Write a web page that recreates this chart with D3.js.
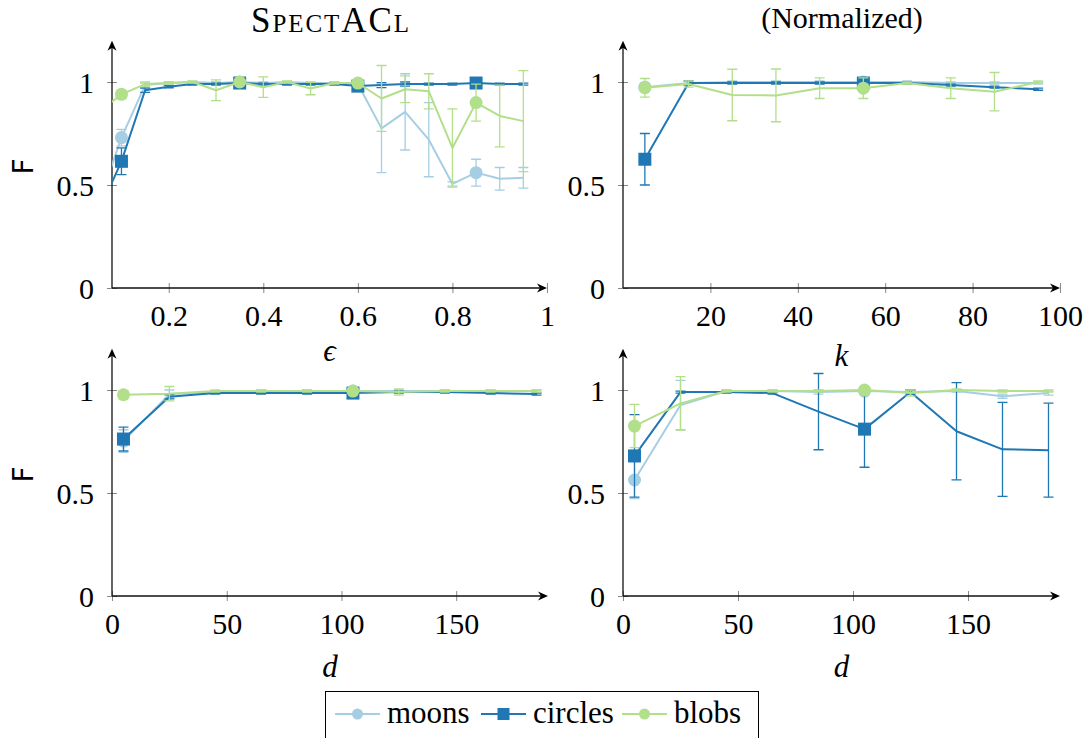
<!DOCTYPE html>
<html><head><meta charset="utf-8">
<script src="https://cdn.jsdelivr.net/npm/d3@7"></script>
<style>
body{margin:0;background:#fff;}
svg{display:block;}
</style></head><body>
<svg id="c" width="1086" height="738" font-family="Liberation Serif"></svg>
<script>
// ---------- data ----------
const seriesNames = ["moons", "circles", "blobs"];
const seriesColors = ["#a6cee3", "#1f78b4", "#b2df8a"];
const seriesSymbols = ["circle", "square", "circle"];

// top-left: epsilon
const epsX = [0.05,0.1,0.15,0.2,0.25,0.3,0.35,0.4,0.45,0.5,0.55,0.6,0.65,0.7,0.75,0.8,0.85,0.9,0.95];
const epsMoons      = [0.40,0.73,0.985,0.995,1.0,0.995,1.0,0.995,1.0,0.995,0.995,0.99,0.775,0.855,0.72,0.505,0.56,0.53,0.535];
const epsMoonsErr   = [0.10,0.04,0.01,0.005,0.003,0.005,0.005,0.005,0.003,0.005,0.005,0.01,0.215,0.185,0.18,0.01,0.065,0.055,0.05];
const epsCircles    = [0.36,0.615,0.96,0.977,0.99,0.99,0.995,0.99,0.99,0.99,0.99,0.98,0.985,0.99,0.99,0.99,0.995,0.99,0.99];
const epsCirclesErr = [0.10,0.065,0.01,0.005,0.005,0.005,0.005,0.005,0.005,0.005,0.005,0.01,0.012,0.01,0.005,0.005,0.005,0.005,0.005];
const epsBlobs      = [0.85,0.94,0.99,0.995,1.0,0.96,1.0,0.975,1.0,0.968,0.995,0.995,0.92,0.965,0.955,0.68,0.90,0.835,0.81];
const epsBlobsErr   = [0.05,0.02,0.01,0.005,0.005,0.05,0.005,0.05,0.005,0.03,0.005,0.01,0.16,0.065,0.085,0.19,0.09,0.15,0.245];
const epsTicks = [0.2,0.4,0.6,0.8,1];
const epsTickLabels = ["0.2","0.4","0.6","0.8","1"];

// top-right: k
const kX = [5,15,25,35,45,55,65,75,85,95];
const kMoons      = [0.975,0.995,1.0,1.0,1.0,1.0,1.0,0.995,0.995,0.995];
const kMoonsErr   = [0.02,0.01,0.005,0.005,0.005,0.01,0.005,0.005,0.005,0.005];
const kCircles    = [0.625,0.995,0.995,0.995,0.995,0.995,0.995,0.985,0.975,0.965];
const kCirclesErr = [0.125,0.01,0.005,0.005,0.005,0.01,0.005,0.005,0.005,0.005];
const kBlobs      = [0.972,0.99,0.937,0.935,0.97,0.97,0.995,0.97,0.953,1.0];
const kBlobsErr   = [0.045,0.015,0.125,0.128,0.05,0.05,0.005,0.05,0.093,0.005];
const kTicks = [20,40,60,80,100];
const kTickLabels = ["20","40","60","80","100"];

// bottom-left: d
const dX = [5,25,45,65,85,105,125,145,165,185];
const dMoons      = [0.752,0.98,0.99,0.995,0.995,0.995,0.995,0.995,0.995,0.995];
const dMoonsErr   = [0.055,0.02,0.005,0.005,0.005,0.005,0.005,0.005,0.005,0.005];
const dCircles    = [0.762,0.967,0.985,0.985,0.985,0.985,0.99,0.99,0.985,0.98];
const dCirclesErr = [0.058,0.01,0.005,0.005,0.005,0.005,0.005,0.005,0.005,0.005];
const dBlobs      = [0.977,0.982,0.995,0.995,0.995,0.995,0.99,0.995,0.995,0.995];
const dBlobsErr   = [0.02,0.035,0.005,0.005,0.005,0.01,0.015,0.005,0.005,0.005];

// bottom-right: d
const d2Moons      = [0.563,0.927,0.995,0.995,0.99,0.995,0.99,0.995,0.97,0.985];
const d2MoonsErr   = [0.09,0.12,0.005,0.005,0.01,0.005,0.01,0.005,0.01,0.01];
const d2Circles    = [0.68,0.99,0.99,0.985,0.895,0.81,0.99,0.80,0.712,0.708];
const d2CirclesErr = [0.2,0.005,0.005,0.005,0.185,0.185,0.01,0.236,0.228,0.228];
const d2Blobs      = [0.825,0.935,0.995,0.995,0.995,1.0,0.985,1.0,0.995,0.995];
const d2BlobsErr   = [0.105,0.13,0.005,0.005,0.005,0.005,0.015,0.005,0.005,0.005];
const dTicks = [0,50,100,150];
const dTickLabels = ["0","50","100","150"];

const yTicks = [0,0.5,1];
const yTickLabels = ["0","0.5","1"];

// ---------- layout ----------
const SERIF = "Liberation Serif";
const panels = [
  {x: epsX, ser: [[epsMoons,epsMoonsErr],[epsCircles,epsCirclesErr],[epsBlobs,epsBlobsErr]],
   xDom: [0.08,1], xTicks: epsTicks, xTickLabels: epsTickLabels, marks: [1,6,11,16],
   left: 112, right: 547, bottom: 288, xLabel: "\u03F5", xLabelY: 361, yLabel: true},
  {x: kX, ser: [[kMoons,kMoonsErr],[kCircles,kCirclesErr],[kBlobs,kBlobsErr]],
   xDom: [0,100], xTicks: kTicks, xTickLabels: kTickLabels, marks: [0,5],
   left: 623, right: 1060, bottom: 288, xLabel: "k", xLabelY: 366, yLabel: false},
  {x: dX, ser: [[dMoons,dMoonsErr],[dCircles,dCirclesErr],[dBlobs,dBlobsErr]],
   xDom: [0,190], xTicks: dTicks, xTickLabels: dTickLabels, marks: [0,5],
   left: 112, right: 548, bottom: 596, xLabel: "d", xLabelY: 677, yLabel: true},
  {x: dX, ser: [[d2Moons,d2MoonsErr],[d2Circles,d2CirclesErr],[d2Blobs,d2BlobsErr]],
   xDom: [0,190], xTicks: dTicks, xTickLabels: dTickLabels, marks: [0,5],
   left: 623, right: 1060, bottom: 596, xLabel: "d", xLabelY: 677, yLabel: false}
];

const svg = d3.select("#c");
const unit = 206;

panels.forEach((p, pi) => {
  const x = d3.scaleLinear().domain(p.xDom).range([p.left, p.right]);
  const y = d3.scaleLinear().domain([0, 1.2]).range([p.bottom, p.bottom - 1.2 * unit]);
  const top = y(1.2);
  const g = svg.append("g");

  const clipId = "clip" + pi;
  svg.append("clipPath").attr("id", clipId).append("rect")
    .attr("x", p.left).attr("y", top).attr("width", p.right - p.left).attr("height", p.bottom - top);

  // x axis
  const xa = g.append("g").attr("transform", `translate(0,${p.bottom})`)
    .call(d3.axisBottom(x).tickValues(p.xTicks).tickFormat((d, i) => p.xTickLabels[i]).tickSize(5).tickPadding(0));
  xa.attr("font-family", SERIF).attr("font-size", 30);
  xa.select(".domain").remove();
  xa.selectAll(".tick line").attr("y1", -5).attr("y2", 5).attr("stroke", "#888").attr("stroke-width", 1);
  xa.selectAll(".tick text").attr("y", 38).attr("dy", null).attr("fill", "#000")
    .attr("font-family", SERIF).attr("font-size", 30);

  // y axis
  const ya = g.append("g").attr("transform", `translate(${p.left},0)`)
    .call(d3.axisLeft(y).tickValues(yTicks).tickFormat((d, i) => yTickLabels[i]).tickSize(5).tickPadding(0));
  ya.attr("font-family", SERIF).attr("font-size", 30);
  ya.select(".domain").remove();
  ya.selectAll(".tick line").attr("x1", -5).attr("x2", 5).attr("stroke", "#888").attr("stroke-width", 1);
  ya.selectAll(".tick text").attr("x", -18).attr("dy", "0.36em").attr("fill", "#000")
    .attr("font-family", SERIF).attr("font-size", 30);

  // axis lines with arrows
  g.append("line").attr("x1", p.left).attr("x2", p.right - 3).attr("y1", p.bottom).attr("y2", p.bottom)
    .attr("stroke", "#111").attr("stroke-width", 1.3);
  g.append("line").attr("x1", p.left).attr("x2", p.left).attr("y1", p.bottom).attr("y2", top + 3)
    .attr("stroke", "#111").attr("stroke-width", 1.3);
  g.append("path").attr("d", `M${p.right},${p.bottom} L${p.right-10},${p.bottom-4.5} L${p.right-7},${p.bottom} L${p.right-10},${p.bottom+4.5} Z`).attr("fill", "#000");
  g.append("path").attr("d", `M${p.left},${top} L${p.left-4.5},${top+10} L${p.left},${top+7} L${p.left+4.5},${top+10} Z`).attr("fill", "#000");

  // axis labels
  g.append("text").attr("x", (p.left + p.right) / 2).attr("y", p.xLabelY).attr("text-anchor", "middle")
    .attr("font-family", SERIF).attr("font-size", 31).attr("font-style", "italic").text(p.xLabel);
  if (p.yLabel) {
    g.append("text").attr("transform", `translate(33,${(p.bottom + top) / 2 + 2}) rotate(-90)`)
      .attr("text-anchor", "middle").attr("font-family", "DejaVu Sans")
      .attr("font-size", 28).text("F");
  }

  // series
  const data = svg.append("g").attr("clip-path", `url(#${clipId})`);
  p.ser.forEach(([vals, errs], si) => {
    const col = seriesColors[si];
    const pts = p.x.map((xv, i) => ({x: xv, v: vals[i], e: errs[i], i}));
    data.append("path").datum(pts)
      .attr("d", d3.line().x(d => x(d.x)).y(d => y(d.v)))
      .attr("fill", "none").attr("stroke", col).attr("stroke-width", 2).attr("stroke-linejoin", "round");
    const eb = data.append("g").attr("stroke", col).attr("stroke-width", 1.3);
    pts.forEach(d => {
      const cx = x(d.x), y1 = y(d.v - d.e), y2 = y(d.v + d.e);
      eb.append("line").attr("x1", cx).attr("x2", cx).attr("y1", y1).attr("y2", y2);
      eb.append("line").attr("x1", cx - 5).attr("x2", cx + 5).attr("y1", y1).attr("y2", y1);
      eb.append("line").attr("x1", cx - 5).attr("x2", cx + 5).attr("y1", y2).attr("y2", y2);
    });
    pts.filter(d => p.marks.includes(d.i)).forEach(d => {
      const cx = x(d.x), cy = y(d.v);
      if (seriesSymbols[si] === "circle") {
        data.append("circle").attr("cx", cx).attr("cy", cy).attr("r", 6.5).attr("fill", col);
      } else {
        data.append("rect").attr("x", cx - 6.5).attr("y", cy - 6.5).attr("width", 13).attr("height", 13).attr("fill", col);
      }
    });
  });
});

// titles
svg.append("text").attr("x", 330).attr("y", 32).attr("text-anchor", "middle")
  .attr("font-family", SERIF).attr("font-size", 35)
  .style("font-variant", "small-caps")
  .attr("textLength", 158).attr("lengthAdjust", "spacing").text("SpectACl");
svg.append("text").attr("x", 842).attr("y", 28).attr("text-anchor", "middle")
  .attr("font-family", SERIF).attr("font-size", 30).text("(Normalized)");

// legend
const lg = svg.append("g");
lg.append("rect").attr("x", 325.5).attr("y", 691.5).attr("width", 433).attr("height", 60)
  .attr("fill", "#fff").attr("stroke", "#000").attr("stroke-width", 1);
const legendX = [335, 481, 622];
seriesNames.forEach((n, si) => {
  const x0 = legendX[si], cy = 714, col = seriesColors[si];
  lg.append("line").attr("x1", x0).attr("x2", x0 + 45).attr("y1", cy).attr("y2", cy).attr("stroke", col).attr("stroke-width", 2);
  if (seriesSymbols[si] === "circle") lg.append("circle").attr("cx", x0 + 22.5).attr("cy", cy).attr("r", 5.5).attr("fill", col);
  else lg.append("rect").attr("x", x0 + 16.5).attr("y", cy - 6).attr("width", 12).attr("height", 12).attr("fill", col);
  lg.append("text").attr("x", x0 + 52).attr("y", 723).attr("font-family", SERIF).attr("font-size", 31).text(n);
});
</script>
</body></html>
